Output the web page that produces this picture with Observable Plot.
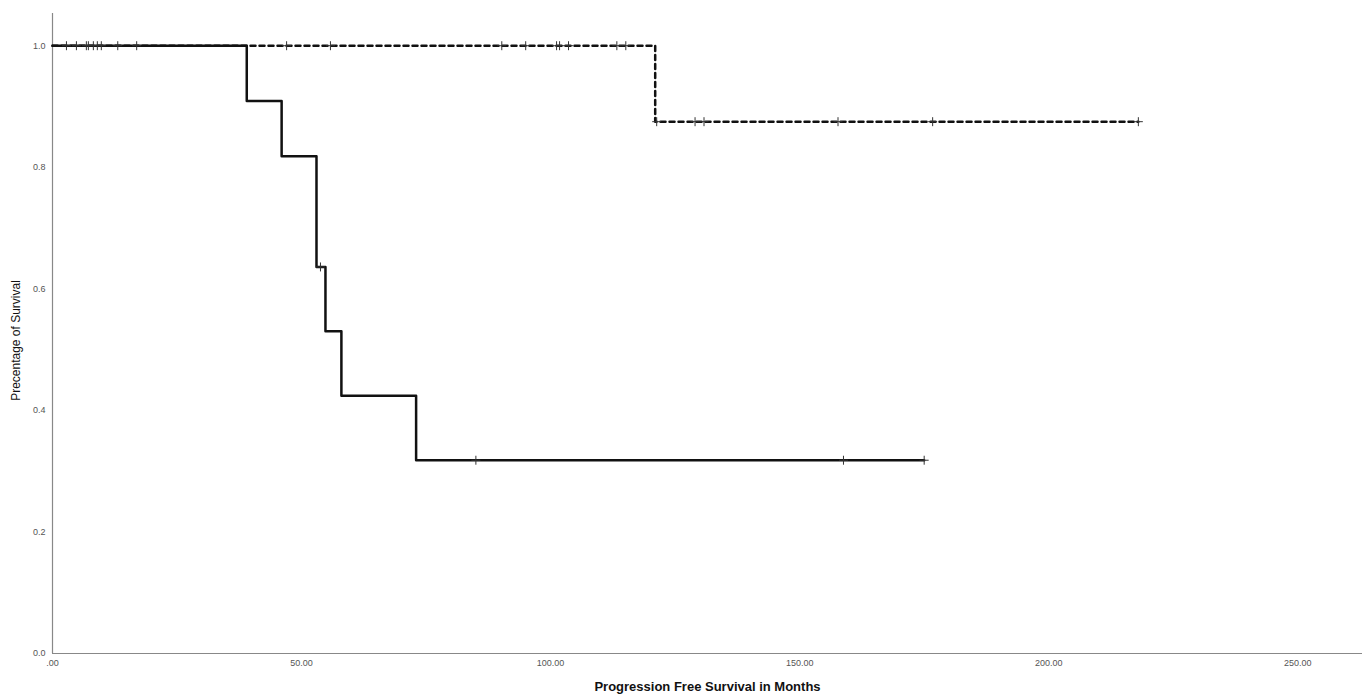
<!DOCTYPE html>
<html>
<head>
<meta charset="utf-8">
<script src="https://cdn.jsdelivr.net/npm/d3@7"></script>
<script src="https://cdn.jsdelivr.net/npm/@observablehq/plot@0.6"></script>
<style>
  html, body { margin: 0; padding: 0; background: #fff; }
  svg { display: block; }
</style>
</head>
<body>
<div id="chart"></div>
<script>
// Group A (solid line): step curve
const solidTimes = [0, 39, 46, 53, 54.8, 58, 73, 175];
const solidSurv = [1, 0.909, 0.818, 0.636, 0.530, 0.424, 0.318, 0.318];
const solidCensorTimes = [53.8, 85, 158.8, 175];

// Group B (dashed line): step curve
const dashedTimes = [0, 121, 218];
const dashedSurv = [1, 0.875, 0.875];
const dashedCensorTimes = [2.8, 4.8, 6.8, 7.2, 8.2, 9.0, 9.8, 13.1, 16.9, 47.0, 55.8, 90.2, 95.0, 101.2, 101.8, 103.6, 113.3, 115.1, 121.3, 129, 130.8, 157.7, 176.7, 218];

const xTicks = [0, 50, 100, 150, 200, 250];
const yTicks = [0, 0.2, 0.4, 0.6, 0.8, 1.0];

function survAt(times, surv, t) {
  let v = surv[0];
  for (let i = 0; i < times.length; i++) if (times[i] <= t) v = surv[i];
  return v;
}

const solid = solidTimes.map((t, i) => ({t, s: solidSurv[i]}));
const dashed = dashedTimes.map((t, i) => ({t, s: dashedSurv[i]}));
const solidCens = solidCensorTimes.map(t => ({t, s: survAt(solidTimes, solidSurv, t)}));
const dashedCens = dashedCensorTimes.map(t => ({t, s: survAt(dashedTimes, dashedSurv, t)}));

const chart = Plot.plot({
  width: 1364,
  height: 695,
  marginLeft: 52,
  marginRight: 2,
  marginTop: 13,
  marginBottom: 42,
  style: {fontFamily: "Liberation Sans, Arial, sans-serif", background: "#fff"},
  x: {domain: [0, 263]},
  y: {domain: [0, 1.053]},
  marks: [
    Plot.ruleX([0], {stroke: "#888", strokeWidth: 1.2}),
    Plot.ruleY([0], {stroke: "#888", strokeWidth: 1.2}),
    Plot.axisX({ticks: xTicks, tickSize: 0, tickPadding: 6, fontSize: 9, color: "#555",
      tickFormat: d => d === 0 ? ".00" : d.toFixed(2), label: null}),
    Plot.axisY({ticks: yTicks, tickSize: 0, tickPadding: 7, fontSize: 9, color: "#555",
      tickFormat: d => d.toFixed(1), label: null}),
    Plot.line(dashed, {x: "t", y: "s", curve: "step-after", stroke: "#111", strokeWidth: 2.5, strokeDasharray: "5,4"}),
    Plot.line(solid, {x: "t", y: "s", curve: "step-after", stroke: "#111", strokeWidth: 2.5}),
    Plot.dot(dashedCens, {x: "t", y: "s", symbol: "plus", r: 3, stroke: "#333", strokeWidth: 1}),
    Plot.dot(solidCens, {x: "t", y: "s", symbol: "plus", r: 3, stroke: "#333", strokeWidth: 1}),
    Plot.text(["Progression Free Survival in Months"], {frameAnchor: "bottom", dy: 37, fontSize: 13, fontWeight: "bold", fill: "#111"}),
    Plot.text(["Precentage of Survival"], {frameAnchor: "left", textAnchor: "middle", dx: -36, dy: 7, rotate: -90, fontSize: 12, fill: "#111"})
  ]
});
document.getElementById("chart").appendChild(chart);
</script>
</body>
</html>
